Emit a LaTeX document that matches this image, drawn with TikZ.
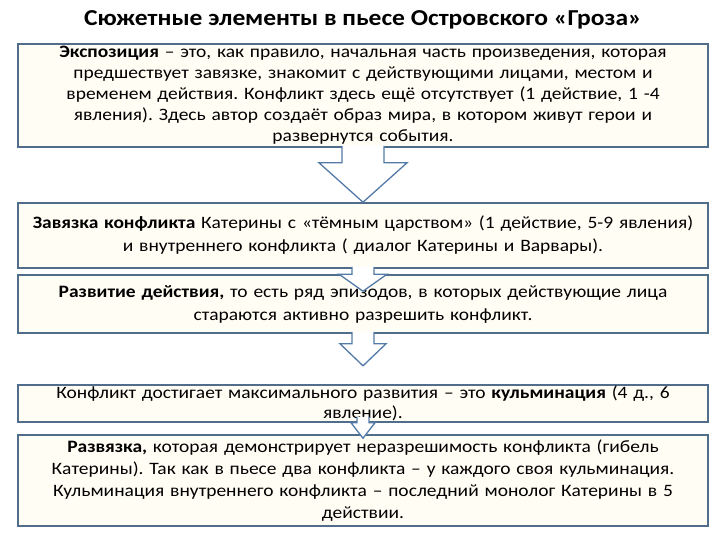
\documentclass[tikz,border=0pt]{standalone}
\usepackage{fontspec}
\setmainfont{Carlito}[FakeStretch=1.12]
\usetikzlibrary{calc}
\definecolor{boxedge}{RGB}{80,110,140}
\definecolor{boxfill}{RGB}{255,253,244}
\definecolor{arrowedge}{RGB}{84,122,168}
\frenchspacing

\begin{document}
\begin{tikzpicture}[
 x=1pt,y=-1pt,
 every node/.style={align=center},
 stage/.style={draw=boxedge,fill=boxfill,line width=1.6pt,minimum width=690pt,text width=686pt,inner sep=0pt},
 linegap/.style={font=\fontsize{17.4}{#1}\selectfont},
 blockarrow/.style={draw=arrowedge,fill=white,line width=1.3pt,line join=miter}
]
\useasboundingbox (0,0) rectangle (720,540);
\node[font=\bfseries\fontsize{22.8}{26}\selectfont] (title) at (363,20) {Сюжетные элементы в пьесе Островского «Гроза»};
\node[stage,linegap=21,minimum height=103pt] (expo) at (363,95.5) {\textbf{Экспозиция} – это, как правило, начальная часть произведения, которая\\
предшествует завязке, знакомит с действующими лицами, местом и\\
временем действия. Конфликт здесь ещё отсутствует (1 действие, 1 -4\\
явления). Здесь автор создаёт образ мира, в котором живут герои и\\
развернутся события.};
\node[stage,linegap=23,minimum height=65pt] (zav) at (363,235.5) {\textbf{Завязка конфликта} Катерины с «тёмным царством» (1 действие, 5-9 явления)\\
и внутреннего конфликта ( диалог Катерины и Варвары).};
\node[stage,linegap=23,minimum height=58pt] (razv) at (363,304) {\textbf{Развитие действия,} то есть ряд эпизодов, в которых действующие лица\\
стараются активно разрешить конфликт.};
\node[stage,linegap=20,minimum height=37pt] (kulm) at (363,403.5) {Конфликт достигает максимального развития – это \textbf{кульминация} (4 д., 6\\
явление).};
\node[stage,linegap=22,minimum height=91pt] (finale) at (363,480.5) {\textbf{Развязка,} которая демонстрирует неразрешимость конфликта (гибель\\
Катерины). Так как в пьесе два конфликта – у каждого своя кульминация.\\
Кульминация внутреннего конфликта – последний монолог Катерины в 5\\
действии.};
% block arrows between the stages
\draw[blockarrow] ($(expo.south)+(-21,-2)$) -- ($(expo.south)+(-21,15)$) -- ($(expo.south)+(-44,15)$)
  -- (zav.north) -- ($(expo.south)+(44,15)$) -- ($(expo.south)+(21,15)$) -- ($(expo.south)+(21,-2)$);
\draw[blockarrow] ($(zav.south)+(-11,-2)$) -- ($(razv.north)+(-11,0)$) -- ($(razv.north)+(-24,0)$)
  -- ($(razv.north)+(0,17)$) -- ($(razv.north)+(24,0)$) -- ($(razv.north)+(11,0)$) -- ($(zav.south)+(11,-2)$);
\draw[blockarrow] ($(razv.south)+(-11,-2)$) -- ($(razv.south)+(-11,10)$) -- ($(razv.south)+(-23,10)$)
  -- ($(razv.south)+(0,32)$) -- ($(razv.south)+(23,10)$) -- ($(razv.south)+(11,10)$) -- ($(razv.south)+(11,-2)$);
\draw[blockarrow] ($(kulm.south)+(-6,-6)$) -- ($(kulm.south)+(-6,0)$) -- ($(kulm.south)+(-12,0)$)
  -- ($(finale.north)+(0,4)$) -- ($(kulm.south)+(12,0)$) -- ($(kulm.south)+(6,0)$) -- ($(kulm.south)+(6,-6)$);
\end{tikzpicture}
\end{document}
